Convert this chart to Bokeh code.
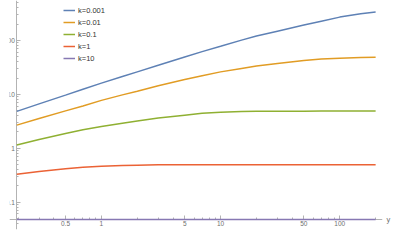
from bokeh.plotting import figure
from bokeh.models import FixedTicker, CustomJSTickFormatter, LogAxis, Range1d
from bokeh.embed import file_html
from bokeh.resources import INLINE

# ---- data ----
x_vals = [0.195, 0.3, 0.5, 0.7, 1, 1.5, 2, 3, 5, 7, 10, 15, 20, 30, 50, 70, 100, 150, 200]
k_0001 = [4.81, 6.63, 9.64, 12.4, 16.1, 21.3, 26.0, 34.4, 49.1, 61.7, 77.5, 101, 120,
          148, 192, 227, 270, 312, 337]
k_001 = [2.67, 3.54, 4.91, 6.07, 7.70, 9.73, 11.4, 14.4, 18.8, 22.1, 26.0, 30.1, 33.3,
         37.3, 42.4, 45.1, 46.5, 47.9, 48.4]
k_01 = [1.147, 1.45, 1.87, 2.19, 2.51, 2.90, 3.18, 3.61, 4.08, 4.42, 4.65, 4.77, 4.83,
        4.86, 4.86, 4.88, 4.88, 4.88, 4.88]
k_1 = [0.329, 0.368, 0.416, 0.442, 0.460, 0.475, 0.483, 0.489, 0.492, 0.492, 0.492, 0.492,
       0.492, 0.492, 0.492, 0.492, 0.492, 0.492, 0.492]
k_10 = [0.0472, 0.0475, 0.0476, 0.0476, 0.0476, 0.0476, 0.0476, 0.0476, 0.0476, 0.0476,
        0.0476, 0.0476, 0.0476, 0.0476, 0.0476, 0.0476, 0.0476, 0.0476, 0.0476]

series = [k_0001, k_001, k_01, k_1, k_10]
series_labels = ["k=0.001", "k=0.01", "k=0.1", "k=1", "k=10"]
colors = ["#5E81B5", "#E19C24", "#8FB032", "#EB6235", "#8778B3"]

x_major = [0.5, 1, 5, 10, 50, 100]
x_minor = [0.2, 0.3, 0.4, 0.6, 0.7, 0.8, 0.9, 2, 3, 4, 6, 7, 8, 9,
           20, 30, 40, 60, 70, 80, 90, 200]
y_major = [0.1, 1, 10, 100]
y_minor = [0.04, 0.05, 0.06, 0.07, 0.08, 0.09, 0.2, 0.3, 0.4, 0.5, 0.6, 0.7, 0.8, 0.9,
           2, 3, 4, 5, 6, 7, 8, 9, 20, 30, 40, 50, 60, 70, 80, 90, 200, 300, 400, 500]
x_axis_name = "y"

# axis crossing point (as in the reference)
x_cross = 0.195
y_cross = 0.0477

p = figure(width=393, height=230, x_axis_type="log", y_axis_type="log",
           x_range=Range1d(0.1694, 228.4), y_range=Range1d(0.0309, 549),
           output_backend="svg", toolbar_location=None, title=None,
           min_border_left=9, min_border_right=10, min_border_top=0, min_border_bottom=1)
p.outline_line_color = None
p.xgrid.visible = False
p.ygrid.visible = False
p.background_fill_color = "white"
p.border_fill_color = "white"

for ys, lab, col in zip(series, series_labels, colors):
    r = p.line(x_vals, ys, line_color=col, line_width=1.5, legend_label=lab)
    r.level = "overlay"

axis_col = "#b3b3b3"
label_col = "#6e6e6e"
for ax, fl, maj, mnr in ((p.xaxis[0], y_cross, x_major, x_minor), (p.yaxis[0], x_cross, y_major, y_minor)):
    ax.fixed_location = fl
    ax.ticker = FixedTicker(ticks=maj, minor_ticks=mnr)
    ax.formatter = CustomJSTickFormatter(code="return tick.toString();")
    ax.axis_line_color = axis_col
    ax.axis_line_width = 1
    ax.major_tick_line_color = axis_col
    ax.minor_tick_line_color = axis_col
    ax.major_tick_in = 4
    ax.major_tick_out = 0
    ax.minor_tick_in = 2
    ax.minor_tick_out = 0
    ax.major_label_text_font = "Liberation Sans"
    ax.major_label_text_font_size = "6.5px"
    ax.major_label_text_color = label_col
    ax.major_label_standoff = 2

# axis name "y" at the right end of the horizontal axis
name_axis = LogAxis(ticker=FixedTicker(ticks=[y_cross], minor_ticks=[]),
                    formatter=CustomJSTickFormatter(code="return '%s';" % x_axis_name),
                    axis_line_color=None, major_tick_line_color=None, minor_tick_line_color=None,
                    major_tick_in=0, major_tick_out=0, minor_tick_in=0, minor_tick_out=0,
                    major_label_standoff=4, major_label_text_font="Liberation Sans",
                    major_label_text_font_size="7.5px", major_label_text_color=label_col)
p.add_layout(name_axis, "right")

lg = p.legend[0]
lg.location = (54, 165)
lg.border_line_color = None
lg.background_fill_alpha = 0
lg.padding = 0
lg.margin = 0
lg.spacing = 0
lg.glyph_width = 12
lg.glyph_height = 12
lg.label_standoff = 3
lg.label_text_font = "Liberation Sans"
lg.label_text_font_size = "7.5px"
lg.label_text_color = "#333333"
lg.label_height = 12

open("out.html", "w").write(file_html(p, INLINE))
